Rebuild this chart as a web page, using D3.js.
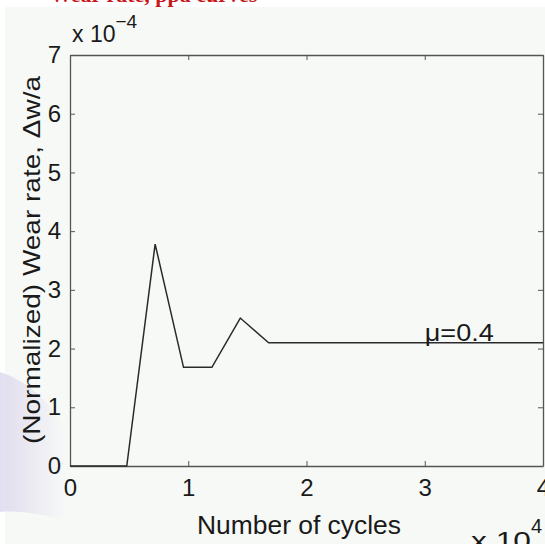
<!DOCTYPE html>
<html>
<head>
<script src="https://cdnjs.cloudflare.com/ajax/libs/d3/7.8.5/d3.min.js"></script>
<style>
body { margin: 0; background: #fff; }
svg { display: block; }
text { font-family: "Liberation Sans", Arial, sans-serif; fill: #1a1a1a; }
</style>
</head>
<body>
<svg id="canvas" width="545" height="544"></svg>
<script>
// number of cycles (x 10^4) and normalized wear rate (x 10^-4)
var cycles = [0, 0.24, 0.48, 0.72, 0.96, 1.2, 1.44, 1.68, 4];
var wearRate = [0, 0, 0, 3.78, 1.68, 1.68, 2.52, 2.1, 2.1];
var xTicks = [0, 1, 2, 3, 4];
var yTicks = [0, 1, 2, 3, 4, 5, 6, 7];
var curveLabel = "\u03bc=0.4";

var svg = d3.select("#canvas");

// page background: grey figure area, white strip on top, faint watermark at left
svg.append("rect").attr("width", 545).attr("height", 544).attr("fill", "#fff");
svg.append("rect").attr("x", 5).attr("y", 7).attr("width", 540).attr("height", 537).attr("fill", "#f7f9f7");

var grad = svg.append("defs").append("linearGradient").attr("id", "wm").attr("x1", 0).attr("x2", 1);
grad.append("stop").attr("offset", 0).attr("stop-color", "#d6d1ea").attr("stop-opacity", 0.7);
grad.append("stop").attr("offset", 1).attr("stop-color", "#d6d1ea").attr("stop-opacity", 0);
svg.append("path")
    .attr("d", "M0,372 C25,380 50,400 66,430 L66,520 C45,515 20,510 0,512 Z")
    .attr("fill", "url(#wm)");

svg.append("text")
    .attr("x", 50).attr("y", 2)
    .style("font-family", "'Liberation Serif', serif")
    .style("font-weight", "bold").style("font-size", "22px")
    .style("fill", "#c8171b")
    .text("Wear rate, ppa curves");

var x = d3.scaleLinear().domain([0, 4]).range([70, 543]);
var y = d3.scaleLinear().domain([0, 7]).range([466, 55]);

var tick = 5;
var axisColor = "#555";

// axes: bottom/left with labels, top/right ticks only (inward)
var gx = svg.append("g").attr("transform", "translate(0," + y(0) + ")")
    .call(d3.axisBottom(x).tickValues(xTicks).tickSizeInner(-tick).tickSizeOuter(0).tickPadding(13).tickFormat(d3.format("d")));
var gy = svg.append("g").attr("transform", "translate(" + x(0) + ",0)")
    .call(d3.axisLeft(y).tickValues(yTicks).tickSizeInner(-tick).tickSizeOuter(0).tickPadding(9).tickFormat(d3.format("d")));
var gt = svg.append("g").attr("transform", "translate(0," + y(7) + ")")
    .call(d3.axisTop(x).tickValues(xTicks).tickSizeInner(-tick).tickSizeOuter(0).tickFormat(""));
var gr = svg.append("g").attr("transform", "translate(" + x(4) + ",0)")
    .call(d3.axisRight(y).tickValues(yTicks).tickSizeInner(-tick).tickSizeOuter(0).tickFormat(""));

[gx, gy, gt, gr].forEach(function(g) {
    g.select(".domain").attr("stroke", axisColor).attr("stroke-width", 1.3);
    g.selectAll(".tick line").attr("stroke", axisColor);
    g.selectAll("text").style("font-size", "24px").attr("fill", "#1a1a1a");
});
gx.selectAll(".tick text").attr("dy", "0.71em");

// data line
var line = d3.line().x(function(d, i) { return x(cycles[i]); }).y(function(d) { return y(d); });
svg.append("path")
    .datum(wearRate)
    .attr("d", line)
    .attr("fill", "none")
    .attr("stroke", "#2a2a2a")
    .attr("stroke-width", 1.5);

svg.append("text")
    .attr("x", x(3)).attr("y", y(2.1) - 2)
    .style("font-size", "24px")
    .attr("textLength", 69).attr("lengthAdjust", "spacingAndGlyphs")
    .text(curveLabel);

// axis titles
svg.append("text")
    .attr("x", 299).attr("y", 534)
    .attr("text-anchor", "middle")
    .style("font-size", "25px")
    .attr("textLength", 204).attr("lengthAdjust", "spacingAndGlyphs")
    .text("Number of cycles");

svg.append("text")
    .attr("transform", "translate(40,260) rotate(-90)")
    .attr("text-anchor", "middle")
    .style("font-size", "24px")
    .attr("textLength", 368).attr("lengthAdjust", "spacingAndGlyphs")
    .text("(Normalized) Wear rate, \u0394w/a");

// exponent labels
var ex = svg.append("text").attr("x", 72).attr("y", 42).style("font-size", "23px");
ex.append("tspan").text("x 10");
ex.append("tspan").attr("dy", -14).style("font-size", "19px").text("\u22124");

var ex2 = svg.append("text").attr("x", 471).attr("y", 549).style("font-size", "24px");
ex2.append("tspan").attr("textLength", 60).attr("lengthAdjust", "spacingAndGlyphs").text("x 10");
ex2.append("tspan").attr("dy", -16).style("font-size", "20px").text("4");
</script>
</body>
</html>
